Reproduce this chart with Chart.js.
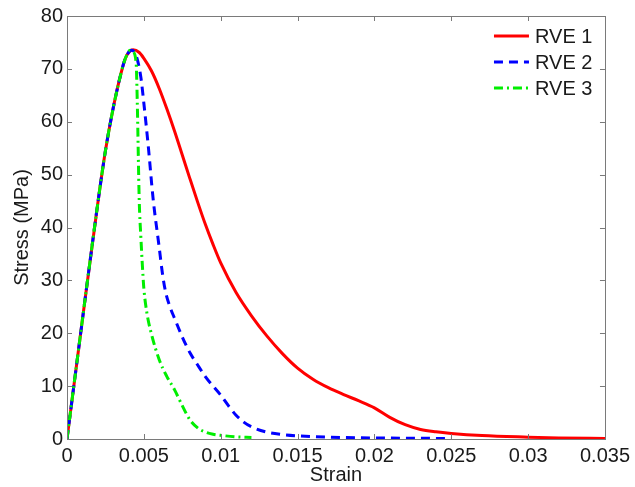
<!DOCTYPE html>
<html>
<head>
<meta charset="utf-8">
<script src="https://cdn.jsdelivr.net/npm/chart.js@4.4.1/dist/chart.umd.min.js"></script>
<style>
  body { margin: 0; background: #fff; }
  #graph { display: block; }
</style>
</head>
<body>
<canvas id="graph" width="635" height="487"></canvas>
<script>
const series_labels = ["RVE 1", "RVE 2", "RVE 3"];

const rve1_strain = [0, 0.001, 0.002, 0.0025, 0.003, 0.0035, 0.0038, 0.0043,
    0.0047, 0.005, 0.0055, 0.006, 0.0065, 0.007, 0.0075, 0.008, 0.0085, 0.009, 0.0095, 0.01, 0.011, 0.012,
    0.013, 0.014, 0.015, 0.016, 0.017, 0.018, 0.019, 0.02, 0.021, 0.022, 0.023, 0.024, 0.025, 0.027, 0.03,
    0.032, 0.035];
const rve1_stress = [0, 22.5, 44.5, 54.5, 62.5, 69, 72, 73.6,
    73.1, 72.0, 69.6, 66.3, 62.4, 58.2, 53.7, 49.2, 44.8, 40.6, 36.8, 33.3, 27.7, 23.3,
    19.5, 16.2, 13.4, 11.3, 9.7, 8.4, 7.2, 5.9, 4.1, 2.7, 1.8, 1.35, 1.05, 0.65, 0.35,
    0.2, 0.1];

const rve2_strain = [0, 0.001, 0.002, 0.0025, 0.003, 0.0035, 0.0038, 0.0042,
    0.0045, 0.0048, 0.005, 0.0053, 0.0056, 0.006, 0.0062, 0.0064, 0.0067, 0.007, 0.0075, 0.008, 0.0085, 0.009,
    0.0095, 0.01, 0.0105, 0.011, 0.0115, 0.012, 0.013, 0.014, 0.015, 0.017, 0.02, 0.025];
const rve2_stress = [0, 22.5, 44.5, 54.5, 62.5, 69, 72, 73.5,
    72.5, 68.5, 63.5, 55, 45.5, 36.2, 31.5, 28, 25, 22.8, 19.3, 16.3, 14.0, 11.8,
    10.0, 8.3, 6.3, 4.5, 3.2, 2.3, 1.3, 0.85, 0.6, 0.35, 0.2, 0.1];

const rve3_strain = [0, 0.001, 0.002, 0.0025, 0.003, 0.0035, 0.0038, 0.0041,
    0.0043, 0.0045, 0.00457, 0.0047, 0.0048, 0.0049, 0.005, 0.0052, 0.0055, 0.006, 0.0065, 0.007, 0.0075,
    0.008, 0.0085, 0.009, 0.0095, 0.01, 0.011, 0.012];
const rve3_stress = [0, 22.5, 44.5, 54.5, 62.5, 69, 72, 73.5,
    73.2, 71, 64, 45, 38.5, 33, 28.5, 23.8, 19.8, 15, 11.8, 9.3, 6.3,
    3.6, 2.1, 1.3, 0.9, 0.7, 0.4, 0.3];

const x_tick_values = [0, 0.005, 0.01, 0.015, 0.02, 0.025, 0.03, 0.035];
const x_tick_labels = ["0", "0.005", "0.01", "0.015", "0.02", "0.025", "0.03", "0.035"];
const y_tick_values = [0, 10, 20, 30, 40, 50, 60, 70, 80];

const FONT = "'Liberation Sans', Arial, sans-serif";
const AXIS_GRAY = "#7a7a7a";
const TEXT_COLOR = "#1a1a1a";

function points(xs, ys) {
    const out = [];
    for (let i = 0; i < xs.length; i++) {
        out.push({ x: xs[i], y: ys[i] });
    }
    return out;
}

/* box around the plot, inward ticks on all four sides, and the legend */
const matlabFrame = {
    id: "matlabFrame",
    afterDatasetsDraw(chart) {
        const ctx = chart.ctx;
        const a = chart.chartArea;
        const xs = chart.scales.x;
        const ys = chart.scales.y;
        const tl = 5;
        ctx.save();
        ctx.strokeStyle = AXIS_GRAY;
        ctx.lineWidth = 1;
        ctx.strokeRect(Math.round(a.left) + 0.5, Math.round(a.top) + 0.5,
            Math.round(a.right - a.left), Math.round(a.bottom - a.top));
        ctx.beginPath();
        x_tick_values.forEach(v => {
            const px = Math.round(xs.getPixelForValue(v)) + 0.5;
            ctx.moveTo(px, a.bottom);
            ctx.lineTo(px, a.bottom - tl);
            ctx.moveTo(px, a.top);
            ctx.lineTo(px, a.top + tl);
        });
        y_tick_values.forEach(v => {
            const py = Math.round(ys.getPixelForValue(v)) + 0.5;
            ctx.moveTo(a.left, py);
            ctx.lineTo(a.left + tl, py);
            ctx.moveTo(a.right, py);
            ctx.lineTo(a.right - tl, py);
        });
        ctx.stroke();

        /* legend, top right inside the axes */
        const lx0 = a.right - 111;
        const lx1 = a.right - 76;
        const rows = [36, 62, 88];
        ctx.font = "20px " + FONT;
        ctx.textBaseline = "middle";
        ctx.textAlign = "left";
        chart.data.datasets.forEach((ds, i) => {
            ctx.strokeStyle = ds.borderColor;
            ctx.lineWidth = ds.borderWidth;
            ctx.setLineDash(ds.borderDash || []);
            ctx.beginPath();
            ctx.moveTo(lx0, rows[i]);
            ctx.lineTo(lx1, rows[i]);
            ctx.stroke();
            ctx.setLineDash([]);
            ctx.fillStyle = TEXT_COLOR;
            ctx.fillText(ds.label, lx1 + 6, rows[i] + 1);
        });
        ctx.restore();
    },
};

const ctx = document.getElementById("graph");
const graph = new Chart(ctx, {
    type: "line",
    data: {
        datasets: [
            {
                label: series_labels[0],
                data: points(rve1_strain, rve1_stress),
                borderColor: "#ff0000",
                borderWidth: 3,
                order: 2,
            },
            {
                label: series_labels[1],
                data: points(rve2_strain, rve2_stress),
                borderColor: "#0000ff",
                borderWidth: 3,
                borderDash: [9, 6],
                order: 1,
            },
            {
                label: series_labels[2],
                data: points(rve3_strain, rve3_stress),
                borderColor: "#00ee00",
                borderWidth: 3,
                borderDash: [9, 4, 2, 4],
                order: 0,
            },
        ],
    },
    options: {
        responsive: false,
        animation: false,
        events: [],
        layout: { padding: { left: 0, top: 16, right: 29, bottom: 0 } },
        elements: {
            point: { radius: 0 },
            line: { cubicInterpolationMode: "monotone", fill: false, borderCapStyle: "butt" },
        },
        plugins: {
            legend: { display: false },
            tooltip: { enabled: false },
        },
        scales: {
            x: {
                type: "linear",
                min: 0,
                max: 0.035,
                afterBuildTicks: s => { s.ticks = x_tick_values.map(v => ({ value: v })); },
                afterFit: s => { s.height = 48; },
                grid: { display: false, drawTicks: false },
                border: { display: false },
                ticks: {
                    padding: 5,
                    color: TEXT_COLOR,
                    font: { family: FONT, size: 20 },
                    maxRotation: 0,
                    autoSkip: false,
                    callback: (v, i) => x_tick_labels[i],
                },
                title: {
                    display: true,
                    text: "Strain",
                    color: TEXT_COLOR,
                    font: { family: FONT, size: 20 },
                    padding: { top: 0, bottom: 0 },
                },
            },
            y: {
                min: 0,
                max: 80,
                afterBuildTicks: s => { s.ticks = y_tick_values.map(v => ({ value: v })); },
                afterFit: s => { s.width = 67; },
                grid: { display: false, drawTicks: false },
                border: { display: false },
                ticks: {
                    padding: 4,
                    color: TEXT_COLOR,
                    font: { family: FONT, size: 20 },
                },
                title: {
                    display: true,
                    text: "Stress (MPa)",
                    color: TEXT_COLOR,
                    font: { family: FONT, size: 20 },
                    padding: { top: 10, bottom: 0 },
                },
            },
        },
    },
    plugins: [matlabFrame],
});
</script>
</body>
</html>
